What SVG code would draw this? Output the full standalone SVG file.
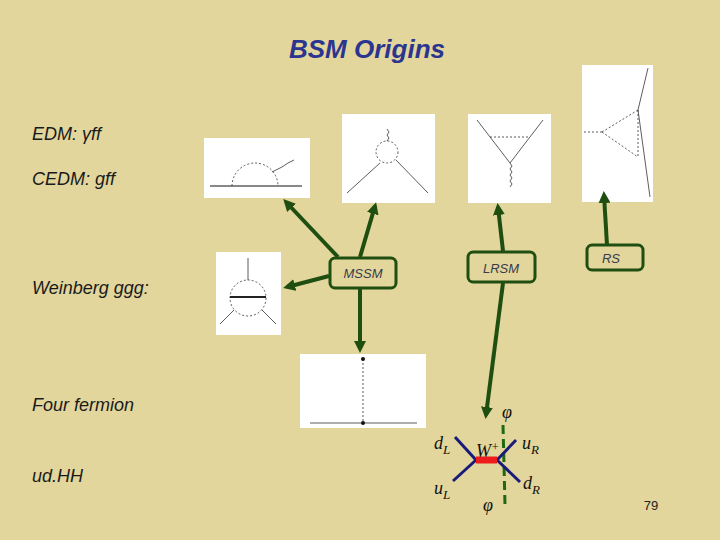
<svg xmlns="http://www.w3.org/2000/svg" width="720" height="540" viewBox="0 0 720 540">
<style>
.t{font-family:"Liberation Sans",Arial,sans-serif;font-style:italic;fill:#1a1a1a}
.box{fill:none;stroke:#1f4f10;stroke-width:3}
.bl{font-family:"Liberation Sans",Arial,sans-serif;font-style:italic;font-size:13px;fill:#3a3a4a}
.c{stroke:#1f4f10;stroke-width:4;fill:none;marker-end:url(#ah)}
.img{fill:#fff}
.d{stroke:#333;stroke-width:0.8;fill:none}
.dd{stroke:#333;stroke-width:0.8;fill:none;stroke-dasharray:2 2}
.m{font-family:"Liberation Serif",serif;font-style:italic;font-size:18px;fill:#111}
</style>
<defs>
<marker id="ah" markerWidth="3" markerHeight="3" refX="2" refY="1.5" orient="auto"><path d="M0,0 L3,1.5 L0,3 z" fill="#1f4f10"/></marker>
</defs>
<rect width="720" height="540" fill="#e2d69c"/>
<text x="367" y="58" text-anchor="middle" font-family="Liberation Sans,Arial,sans-serif" font-style="italic" font-weight="bold" font-size="26" fill="#2b3590">BSM Origins</text>
<text class="t" x="32" y="140" font-size="18">EDM: γff</text>
<text class="t" x="32" y="185" font-size="18">CEDM: gff</text>
<text class="t" x="32" y="294" font-size="18">Weinberg ggg:</text>
<text class="t" x="32" y="411" font-size="18">Four fermion</text>
<text class="t" x="32" y="482" font-size="18">ud.HH</text>
<g id="img-edm"><rect class="img" x="204" y="138" width="106" height="60"/>
<line x1="210" y1="186" x2="302" y2="186" stroke="#888" stroke-width="2"/><path class="dd" d="M232,186 A23,23 0 0 1 278,186"/><path class="d" d="M272,172 l6,-3 l4,-2 l6,-4 l6,-3"/></g>
<g id="img-cedm"><rect class="img" x="342" y="114" width="93" height="89"/>
<circle class="dd" cx="387" cy="152" r="11"/><line class="d" x1="347" y1="193" x2="380" y2="163"/><line class="d" x1="396" y1="160" x2="428" y2="193"/><path class="d" d="M387,141 l2,-3 l-2,-3 l2,-3 l-2,-3"/></g>
<g id="img-lrsm"><rect class="img" x="468" y="114" width="83" height="89"/>
<line class="d" x1="477" y1="120" x2="510" y2="163"/><line class="d" x1="543" y1="120" x2="510" y2="163"/><line class="dd" x1="490" y1="137" x2="528" y2="137"/><path class="d" d="M510,163 l2,3 l-2,3 l2,3 l-2,3 l2,3 l-2,3 l2,3 l-2,3"/></g>
<g id="img-rs"><rect class="img" x="582" y="65" width="71" height="137"/>
<line class="d" x1="648" y1="68" x2="638" y2="110"/><line class="d" x1="638" y1="110" x2="650" y2="197"/><line class="dd" x1="602" y1="132" x2="638" y2="110"/><line class="dd" x1="602" y1="132" x2="638" y2="157"/><line class="dd" x1="638" y1="110" x2="638" y2="157"/><path class="dd" d="M584,132 h18"/></g>
<g id="img-weinberg"><rect class="img" x="216" y="252" width="65" height="83"/>
<circle class="dd" cx="248" cy="298" r="18"/><line x1="230" y1="297" x2="266" y2="297" stroke="#222" stroke-width="2"/><path class="d" d="M248,280 v-22 M234,310 l-14,14 M262,310 l14,14"/></g>
<g id="img-four"><rect class="img" x="300" y="354" width="126" height="74"/>
<line class="dd" x1="363" y1="359" x2="363" y2="423"/><line class="d" x1="310" y1="423" x2="417" y2="423"/><circle cx="363" cy="359" r="2" fill="#111"/><circle cx="363" cy="423" r="2" fill="#111"/></g>
<g id="connectors">
<line class="c" x1="338" y1="257" x2="286" y2="202"/>
<line class="c" x1="360" y1="257" x2="375" y2="206"/>
<line class="c" x1="329" y1="276" x2="287" y2="287"/>
<line class="c" x1="360" y1="289" x2="360" y2="349"/>
<line class="c" x1="503" y1="251" x2="498" y2="207"/>
<line class="c" x1="503" y1="283" x2="486" y2="415"/>
<line class="c" x1="607" y1="245" x2="604" y2="195"/>
</g>
<g id="mssm"><rect class="box" x="330" y="258" width="66" height="30" rx="5"/><text class="bl" x="363" y="278" text-anchor="middle">MSSM</text></g>
<g id="lrsm"><rect class="box" x="468" y="252" width="67" height="30" rx="5"/><text class="bl" x="501" y="273" text-anchor="middle">LRSM</text></g>
<g id="rs"><rect class="box" x="587" y="245" width="56" height="25" rx="5"/><text class="bl" x="611" y="263" text-anchor="middle">RS</text></g>
<g id="vertex">
<line x1="503" y1="425" x2="505" y2="505" stroke="#1f6a10" stroke-width="3" stroke-dasharray="9 5"/>
<line x1="455" y1="437" x2="476" y2="460" stroke="#1a1a7a" stroke-width="3"/>
<line x1="476" y1="460" x2="453" y2="481" stroke="#1a1a7a" stroke-width="3"/>
<line x1="516" y1="440" x2="497" y2="460" stroke="#1a1a7a" stroke-width="3"/>
<line x1="497" y1="460" x2="520" y2="482" stroke="#1a1a7a" stroke-width="3"/>
<line x1="476" y1="460" x2="497" y2="460" stroke="#ee1c1c" stroke-width="7"/>
<text class="m" x="502" y="418">φ</text>
<text class="m" x="434" y="449">d<tspan font-size="13" dy="5">L</tspan></text>
<text class="m" x="476" y="457">W<tspan font-size="12" dy="-6">+</tspan></text>
<text class="m" x="522" y="449">u<tspan font-size="13" dy="5">R</tspan></text>
<text class="m" x="434" y="494">u<tspan font-size="13" dy="5">L</tspan></text>
<text class="m" x="523" y="489">d<tspan font-size="13" dy="5">R</tspan></text>
<text class="m" x="483" y="511">φ</text>
</g>
<text x="651" y="510" text-anchor="middle" font-family="Liberation Sans,Arial,sans-serif" font-size="13" fill="#222">79</text>
</svg>
